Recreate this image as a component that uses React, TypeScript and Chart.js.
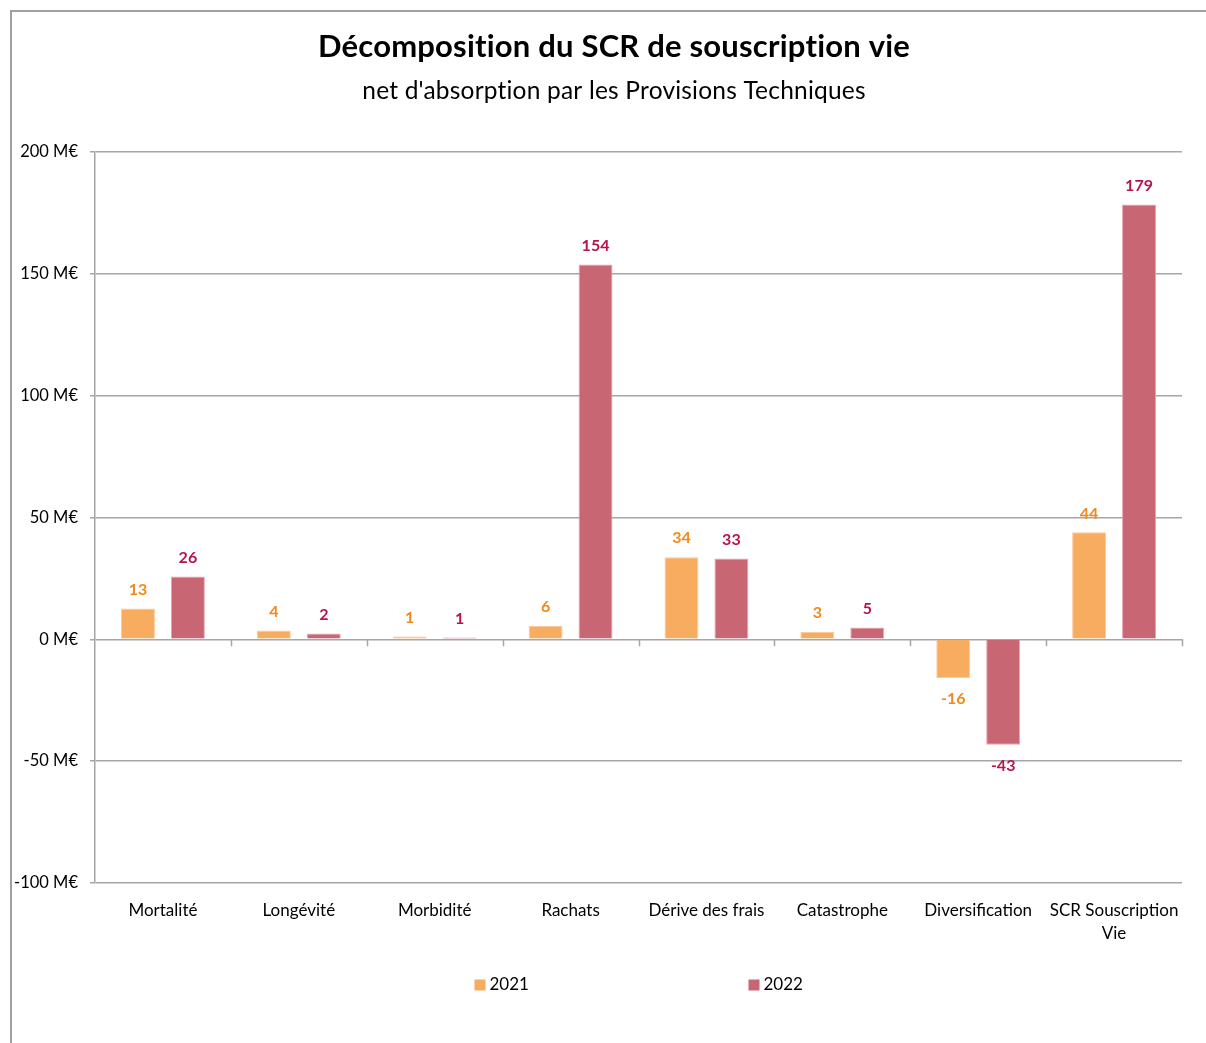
import React, { useEffect, useRef } from "react";
import { Chart, registerables } from "chart.js";

Chart.register(...registerables);

const categories: (string | string[])[] = [
  "Mortalité",
  "Longévité",
  "Morbidité",
  "Rachats",
  "Dérive des frais",
  "Catastrophe",
  "Diversification",
  ["SCR Souscription", "Vie"],
];
const values2021 = [12.7, 3.6, 1.2, 5.6, 33.7, 3.0, -15.9, 43.9];
const values2022 = [25.8, 2.4, 0.8, 153.8, 33.2, 4.9, -43.3, 178.5];
const seriesNames = ["2021", "2022"];
const yTicks = { min: -100, max: 200, step: 50 };
const titleText = "Décomposition du SCR de souscription vie";
const subtitleText = "net d'absorption par les Provisions Techniques";

const FONT = "Lato, 'Open Sans', sans-serif";
const barColors = ["#F8AC60", "#C86673"];
const labelColors = ["#F08A1C", "#B5144C"];
const gridColor = "#a6a6a6";

const decorPlugin = {
  id: "decor",
  beforeDraw(chart: any) {
    const ctx = chart.ctx;
    ctx.save();
    ctx.strokeStyle = "#a0a0a0";
    ctx.lineWidth = 2;
    ctx.beginPath();
    ctx.moveTo(11, chart.height);
    ctx.lineTo(11, 11);
    ctx.lineTo(chart.width, 11);
    ctx.stroke();
    ctx.restore();
  },
  afterDraw(chart: any) {
    const ctx = chart.ctx;
    const area = chart.chartArea;
    const ys = chart.scales.y;
    ctx.save();
    // titles
    const cx = 614;
    ctx.fillStyle = "#000";
    ctx.textAlign = "center";
    ctx.textBaseline = "middle";
    try {
      (ctx as any).letterSpacing = "0.2px";
    } catch (e) {}
    ctx.font = `bold 31px ${FONT}`;
    ctx.fillText(titleText, cx, 47);
    ctx.font = `24.5px ${FONT}`;
    ctx.fillText(subtitleText, cx, 91);
    try {
      (ctx as any).letterSpacing = "0px";
    } catch (e) {}

    // category tick marks on zero line
    const y0 = ys.getPixelForValue(0);
    ctx.strokeStyle = gridColor;
    ctx.lineWidth = 1.5;
    const n = categories.length;
    const w = (area.right - area.left) / n;
    ctx.beginPath();
    for (let i = 1; i <= n; i++) {
      const x = Math.round(area.left + i * w) + 0.5;
      ctx.moveTo(x, y0);
      ctx.lineTo(x, y0 + 7);
    }
    ctx.stroke();

    // data labels
    ctx.font = `bold 16px ${FONT}`;
    chart.data.datasets.forEach((ds: any, di: number) => {
      const meta = chart.getDatasetMeta(di);
      ctx.fillStyle = labelColors[di];
      meta.data.forEach((el: any, i: number) => {
        const v = ds.data[i];
        const txt = String(Math.round(v));
        const y = v >= 0 ? el.y - 19 : el.y + 21;
        ctx.fillText(txt, el.x, y);
      });
    });

    // legend
    const center = (area.left + area.right) / 2;
    ctx.font = `17px ${FONT}`;
    ctx.textAlign = "left";
    seriesNames.forEach((name, i) => {
      const bx = center - 164 + i * 274;
      const by = 985;
      ctx.fillStyle = barColors[i];
      ctx.fillRect(bx, by - 5.5, 11, 11);
      ctx.fillStyle = "#000";
      ctx.fillText(name, bx + 15, by);
    });
    ctx.restore();
  },
};

export default function App() {
  const ref = useRef<HTMLCanvasElement | null>(null);
  useEffect(() => {
    document.body.style.margin = "0";
    const canvas = ref.current!;
    const chart = new Chart(canvas, {
      type: "bar",
      data: {
        labels: categories,
        datasets: [
          {
            label: seriesNames[0],
            data: values2021,
            backgroundColor: barColors[0],
            borderColor: "#FBCB9B",
            borderWidth: 1,
            categoryPercentage: 0.735,
            barPercentage: 0.68,
          },
          {
            label: seriesNames[1],
            data: values2022,
            backgroundColor: barColors[1],
            borderColor: "#E3A6AE",
            borderWidth: 1,
            categoryPercentage: 0.735,
            barPercentage: 0.68,
          },
        ],
      },
      options: {
        animation: false,
        responsive: false,
        maintainAspectRatio: false,
        layout: { padding: { left: 10, right: 24, top: 152, bottom: 0 } },
        plugins: {
          legend: { display: false },
          title: { display: false },
          tooltip: { enabled: false },
        },
        scales: {
          x: {
            grid: { display: false },
            border: { display: false },
            ticks: {
              color: "#000",
              font: { family: FONT, size: 17, lineHeight: 1.35 },
              padding: 8,
              maxRotation: 0,
              autoSkip: false,
            },
            afterFit: (s: any) => {
              s.height = 160;
            },
          },
          y: {
            min: yTicks.min,
            max: yTicks.max,
            ticks: {
              stepSize: yTicks.step,
              color: "#000",
              font: { family: FONT, size: 16.5 },
              padding: 12,
              callback: (v: any) => `${v} M€`,
            },
            grid: { color: gridColor, lineWidth: 1.5, tickLength: 5 },
            border: { display: true, color: gridColor, width: 1.5 },
            afterFit: (s: any) => {
              s.width = 85;
            },
          },
        },
      },
      plugins: [decorPlugin],
    });
    return () => chart.destroy();
  }, []);
  return (
    <div style={{ width: 1206, height: 1043, background: "#fff" }}>
      <canvas ref={ref} width={1206} height={1043} style={{ display: "block" }} />
    </div>
  );
}
